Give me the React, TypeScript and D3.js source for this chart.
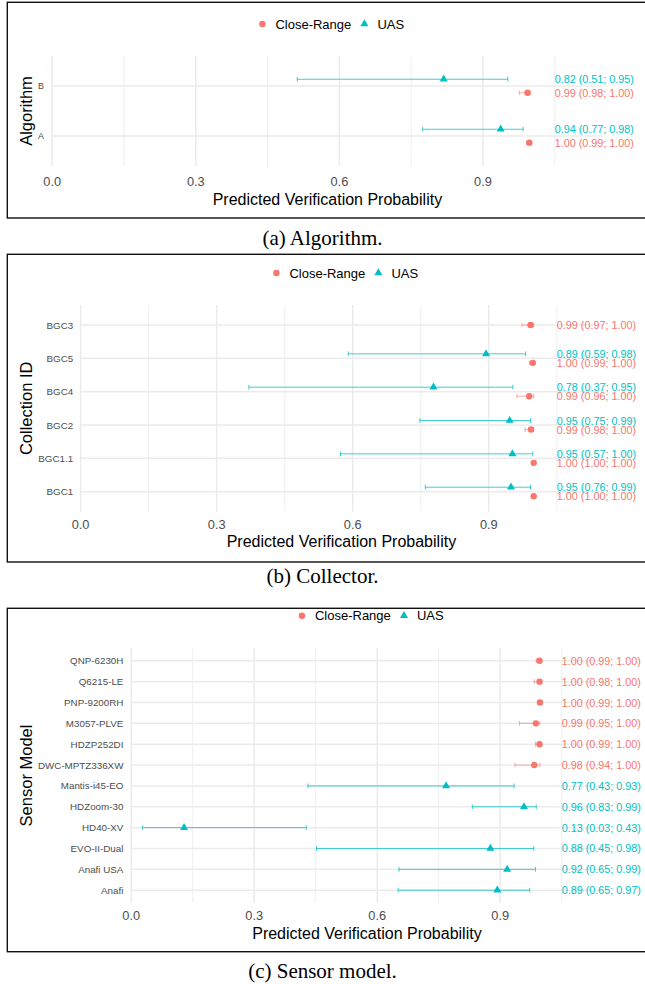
import React from "react";
import * as d3 from "d3";

// ---------- data ----------
const seriesNames = ["Close-Range", "UAS"];
const seriesColors = ["#F8766D", "#00BFC4"];
const xTicks = [0, 0.3, 0.6, 0.9];
const xMinorTicks = [0.15, 0.45, 0.75, 1.05];
const xMax = 1.15;
const labelAt = 1.05;

type Est = { cat: string; est: number; lo: number; hi: number };

// (a) Algorithm
const algorithmCats = ["B", "A"];
const algorithmCR: Est[] = [
  { cat: "B", est: 0.993, lo: 0.976, hi: 0.999 },
  { cat: "A", est: 0.997, lo: 0.991, hi: 0.999 },
];
const algorithmUAS: Est[] = [
  { cat: "B", est: 0.818, lo: 0.512, hi: 0.952 },
  { cat: "A", est: 0.937, lo: 0.774, hi: 0.984 },
];

// (b) Collector
const collectorCats = ["BGC3", "BGC5", "BGC4", "BGC2", "BGC1.1", "BGC1"];
const collectorCR: Est[] = [
  { cat: "BGC3", est: 0.992, lo: 0.973, hi: 0.999 },
  { cat: "BGC5", est: 0.997, lo: 0.99, hi: 0.9995 },
  { cat: "BGC4", est: 0.989, lo: 0.962, hi: 0.999 },
  { cat: "BGC2", est: 0.993, lo: 0.98, hi: 0.999 },
  { cat: "BGC1.1", est: 0.999, lo: 0.998, hi: 1.0 },
  { cat: "BGC1", est: 0.999, lo: 0.998, hi: 1.0 },
];
const collectorUAS: Est[] = [
  { cat: "BGC5", est: 0.894, lo: 0.59, hi: 0.981 },
  { cat: "BGC4", est: 0.778, lo: 0.371, hi: 0.953 },
  { cat: "BGC2", est: 0.946, lo: 0.748, hi: 0.992 },
  { cat: "BGC1.1", est: 0.952, lo: 0.573, hi: 0.997 },
  { cat: "BGC1", est: 0.949, lo: 0.76, hi: 0.992 },
];

// (c) Sensor model
const sensorCats = [
  "QNP-6230H", "Q6215-LE", "PNP-9200RH", "M3057-PLVE", "HDZP252DI", "DWC-MPTZ336XW",
  "Mantis-i45-EO", "HDZoom-30", "HD40-XV", "EVO-II-Dual", "Anafi USA", "Anafi",
];
const sensorCR: Est[] = [
  { cat: "QNP-6230H", est: 0.996, lo: 0.988, hi: 1.0 },
  { cat: "Q6215-LE", est: 0.996, lo: 0.983, hi: 1.0 },
  { cat: "PNP-9200RH", est: 0.997, lo: 0.992, hi: 1.0 },
  { cat: "M3057-PLVE", est: 0.987, lo: 0.947, hi: 0.997 },
  { cat: "HDZP252DI", est: 0.996, lo: 0.986, hi: 1.0 },
  { cat: "DWC-MPTZ336XW", est: 0.983, lo: 0.936, hi: 0.997 },
];
const sensorUAS: Est[] = [
  { cat: "Mantis-i45-EO", est: 0.768, lo: 0.431, hi: 0.934 },
  { cat: "HDZoom-30", est: 0.958, lo: 0.832, hi: 0.988 },
  { cat: "HD40-XV", est: 0.129, lo: 0.028, hi: 0.427 },
  { cat: "EVO-II-Dual", est: 0.876, lo: 0.452, hi: 0.982 },
  { cat: "Anafi USA", est: 0.917, lo: 0.653, hi: 0.986 },
  { cat: "Anafi", est: 0.893, lo: 0.651, hi: 0.972 },
];

// ---------- drawing ----------
const SANS = "'Liberation Sans', Arial, Helvetica, sans-serif";
const SERIF = "'Liberation Serif', 'Times New Roman', serif";
const fmt = d3.format(".2f");
const labelText = (d: Est) => `${fmt(d.est)} (${fmt(d.lo)}; ${fmt(d.hi)})`;
const triPath = d3.symbol(d3.symbolTriangle, 28)() as string;

type PanelCfg = {
  boxTop: number;
  boxBottom: number;
  xRange: [number, number];
  yRange: [number, number];
  cats: string[];
  cr: Est[];
  uas: Est[];
  yTitle: string;
  legendY: number;
  tickY: number;
  titleY: number;
  yTickRight: number;
  yTickSize: number;
  caption: string;
  captionY: number;
};

function Panel({ c }: { c: PanelCfg }) {
  const x = d3.scaleLinear().domain([0, xMax]).range(c.xRange);
  const y = d3.scalePoint<string>().domain(c.cats).range(c.yRange).padding(0.6);
  const step = y.step();
  const off = 0.135 * step;
  const cx = (c.xRange[0] + c.xRange[1]) / 2;
  const cy = (c.yRange[0] + c.yRange[1]) / 2;
  const both = (cat: string) =>
    c.cr.some((d) => d.cat === cat) && c.uas.some((d) => d.cat === cat);
  const yPos = (d: Est, s: number) =>
    (y(d.cat) as number) + (both(d.cat) ? (s === 0 ? off : -off) : 0);
  const cap = 2.4;

  const series = [c.cr, c.uas];

  return (
    <g>
      <rect
        x={7.3}
        y={c.boxTop}
        width={700}
        height={c.boxBottom - c.boxTop}
        fill="none"
        stroke="#111"
        strokeWidth={1.4}
      />
      {/* legend */}
      <g fontFamily={SANS} fontSize={13}>
        <circle cx={cx - 65} cy={c.legendY} r={3.2} fill={seriesColors[0]} />
        <text x={cx - 52} y={c.legendY} dominantBaseline="central" fill="#000">
          {seriesNames[0]}
        </text>
        <path d={triPath} transform={`translate(${cx + 37},${c.legendY})`} fill={seriesColors[1]} />
        <text x={cx + 50} y={c.legendY} dominantBaseline="central" fill="#000">
          {seriesNames[1]}
        </text>
      </g>
      {/* grid */}
      {xMinorTicks.map((t) => (
        <line key={"mi" + t} x1={x(t)} x2={x(t)} y1={c.yRange[0]} y2={c.yRange[1]} stroke="#EBEBEB" strokeWidth={0.8} />
      ))}
      {xTicks.map((t) => (
        <line key={"ma" + t} x1={x(t)} x2={x(t)} y1={c.yRange[0]} y2={c.yRange[1]} stroke="#EBEBEB" strokeWidth={1.5} />
      ))}
      {c.cats.map((k) => (
        <line key={"h" + k} x1={c.xRange[0]} x2={c.xRange[1]} y1={y(k)} y2={y(k)} stroke="#EBEBEB" strokeWidth={1.5} />
      ))}
      {/* error bars */}
      {series.map((arr, s) =>
        arr.map((d) => {
          const yy = yPos(d, s);
          return (
            <g key={"e" + s + d.cat} stroke={seriesColors[s]} strokeOpacity={s === 0 ? 0.6 : 0.75} strokeWidth={1}>
              <line x1={x(d.lo)} x2={x(d.hi)} y1={yy} y2={yy} />
              <line x1={x(d.lo)} x2={x(d.lo)} y1={yy - cap} y2={yy + cap} />
              <line x1={x(d.hi)} x2={x(d.hi)} y1={yy - cap} y2={yy + cap} />
            </g>
          );
        })
      )}
      {/* points */}
      {c.cr.map((d) => (
        <circle key={"p0" + d.cat} cx={x(d.est)} cy={yPos(d, 0)} r={3.2} fill={seriesColors[0]} />
      ))}
      {c.uas.map((d) => (
        <path key={"p1" + d.cat} d={triPath} transform={`translate(${x(d.est)},${yPos(d, 1)})`} fill={seriesColors[1]} />
      ))}
      {/* value labels */}
      <g fontFamily={SANS} fontSize={10.8}>
        {series.map((arr, s) =>
          arr.map((d) => (
            <text key={"l" + s + d.cat} x={x(labelAt)} y={yPos(d, s)} dominantBaseline="central" fill={seriesColors[s]}>
              {labelText(d)}
            </text>
          ))
        )}
      </g>
      {/* y tick labels */}
      <g fontFamily={SANS} fontSize={c.yTickSize} fill="#4D4D4D">
        {c.cats.map((k) => (
          <text key={"yt" + k} x={c.yTickRight} y={y(k)} textAnchor="end" dominantBaseline="central">
            {k}
          </text>
        ))}
      </g>
      {/* x tick labels */}
      <g fontFamily={SANS} fontSize={12.8} fill="#4D4D4D">
        {xTicks.map((t) => (
          <text key={"xt" + t} x={x(t)} y={c.tickY} textAnchor="middle" dominantBaseline="central">
            {d3.format(".1f")(t)}
          </text>
        ))}
      </g>
      {/* axis titles */}
      <text x={cx} y={c.titleY} textAnchor="middle" dominantBaseline="central" fontFamily={SANS} fontSize={16} fill="#000">
        Predicted Verification Probability
      </text>
      <text
        transform={`translate(26,${cy}) rotate(-90)`}
        textAnchor="middle"
        dominantBaseline="central"
        fontFamily={SANS}
        fontSize={16.5}
        fill="#000"
      >
        {c.yTitle}
      </text>
      {/* caption */}
      <text x={322.5} y={c.captionY} textAnchor="middle" dominantBaseline="central" fontFamily={SERIF} fontSize={21} fill="#000">
        {c.caption}
      </text>
    </g>
  );
}

const panels: PanelCfg[] = [
  {
    boxTop: 2.3, boxBottom: 218, xRange: [52.2, 602.6], yRange: [56, 166],
    cats: algorithmCats, cr: algorithmCR, uas: algorithmUAS, yTitle: "Algorithm",
    legendY: 24, tickY: 181.7, titleY: 199, yTickRight: 44, yTickSize: 9,
    caption: "(a) Algorithm.", captionY: 238,
  },
  {
    boxTop: 254.3, boxBottom: 562, xRange: [80.6, 602.2], yRange: [305, 511.7],
    cats: collectorCats, cr: collectorCR, uas: collectorUAS, yTitle: "Collection ID",
    legendY: 273, tickY: 524.3, titleY: 541.7, yTickRight: 73.2, yTickSize: 9.8,
    caption: "(b) Collector.", captionY: 576,
  },
  {
    boxTop: 608.3, boxBottom: 951.7, xRange: [131.2, 602.7], yRange: [648.3, 902.7],
    cats: sensorCats, cr: sensorCR, uas: sensorUAS, yTitle: "Sensor Model",
    legendY: 615.7, tickY: 915, titleY: 933.3, yTickRight: 123.4, yTickSize: 9.8,
    caption: "(c) Sensor model.", captionY: 971,
  },
];

export default function App() {
  return (
    <svg
      width={645}
      height={984}
      viewBox="0 0 645 984"
      style={{ position: "absolute", left: 0, top: 0, background: "#fff" }}
    >
      <rect x={0} y={0} width={645} height={984} fill="#fff" />
      {panels.map((p, i) => (
        <Panel key={i} c={p} />
      ))}
    </svg>
  );
}
